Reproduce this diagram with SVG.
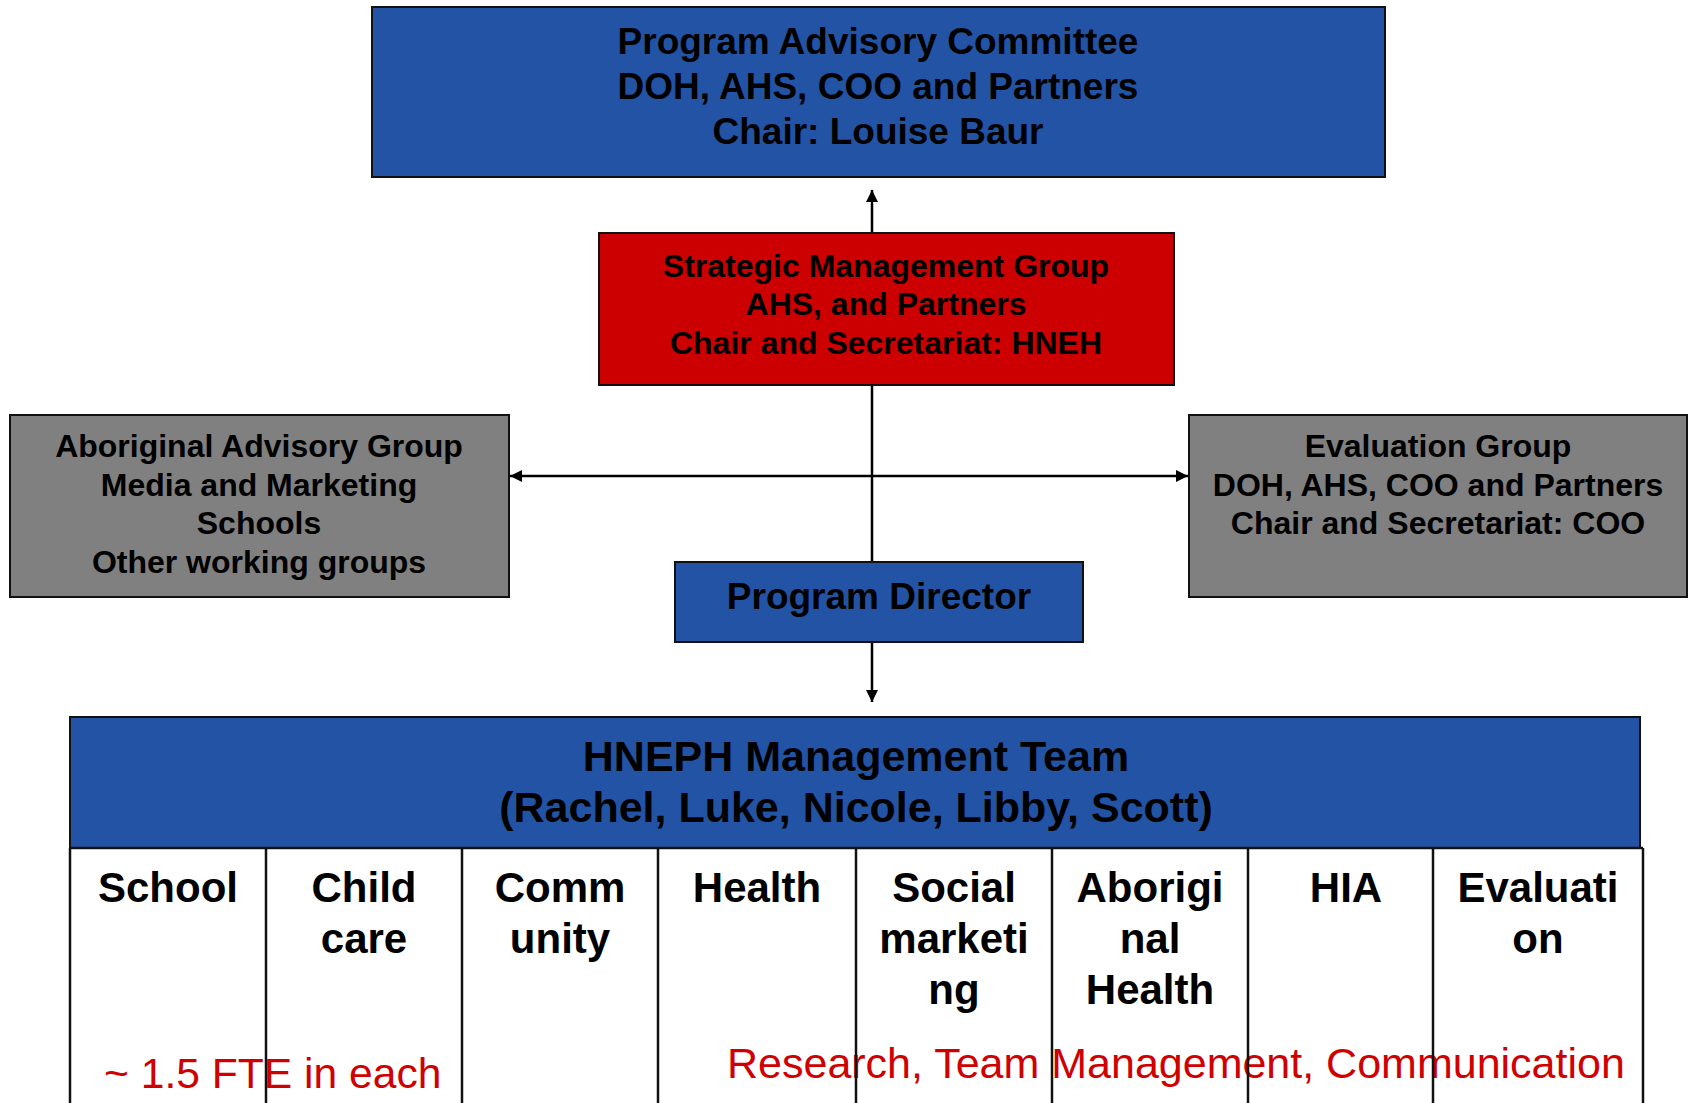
<svg xmlns="http://www.w3.org/2000/svg" width="1688" height="1103" viewBox="0 0 1688 1103">
<style>
.box{stroke:#111;stroke-width:2}
.blue{fill:#2353A5}
.red{fill:#CC0000}
.gray{fill:#808080}
.t{font-family:"Liberation Sans",Arial,sans-serif;font-weight:bold;fill:#000;text-anchor:middle}
.t37{font-size:37px}
.t32{font-size:32px}
.t42{font-size:42px}
.t43{font-size:43px}
.note{font-family:"Liberation Sans",Arial,sans-serif;fill:#D00000}
.conn{stroke:#000;stroke-width:2.5;fill:none}
.div{stroke:#111;stroke-width:2.5}
</style>
<defs>
<marker id="ah" viewBox="0 0 12 12" refX="12" refY="6" markerWidth="12" markerHeight="12" markerUnits="userSpaceOnUse" orient="auto">
<path d="M0,0 L12,6 L0,12 Z" fill="#000"/>
</marker>
</defs>
<rect width="1688" height="1103" fill="#fff"/>

<g id="connectors">
<line class="conn" x1="872" y1="233" x2="872" y2="190" marker-end="url(#ah)"/>
<line class="conn" x1="872" y1="385" x2="872" y2="562"/>
<line class="conn" x1="872" y1="476" x2="1188" y2="476" marker-end="url(#ah)"/>
<line class="conn" x1="872" y1="476" x2="510" y2="476" marker-end="url(#ah)"/>
<line class="conn" x1="872" y1="642" x2="872" y2="702" marker-end="url(#ah)"/>
</g>

<g id="program-advisory-committee">
<rect class="box blue" x="372" y="7" width="1013" height="170"/>
<text class="t t37" x="878" y="54">Program Advisory Committee</text>
<text class="t t37" x="878" y="99">DOH, AHS, COO and Partners</text>
<text class="t t37" x="878" y="144">Chair: Louise Baur</text>
</g>

<g id="strategic-management-group">
<rect class="box red" x="599" y="233" width="575" height="152"/>
<text class="t t32" x="886" y="277">Strategic Management Group</text>
<text class="t t32" x="886" y="315">AHS, and Partners</text>
<text class="t t32" x="886" y="354">Chair and Secretariat: HNEH</text>
</g>

<g id="aboriginal-advisory-group">
<rect class="box gray" x="10" y="415" width="499" height="182"/>
<text class="t t32" x="259" y="457">Aboriginal Advisory Group</text>
<text class="t t32" x="259" y="496">Media and Marketing</text>
<text class="t t32" x="259" y="534">Schools</text>
<text class="t t32" x="259" y="573">Other working groups</text>
</g>

<g id="evaluation-group">
<rect class="box gray" x="1189" y="415" width="498" height="182"/>
<text class="t t32" x="1438" y="457">Evaluation Group</text>
<text class="t t32" x="1438" y="496">DOH, AHS, COO and Partners</text>
<text class="t t32" x="1438" y="534">Chair and Secretariat: COO</text>
</g>

<g id="program-director">
<rect class="box blue" x="675" y="562" width="408" height="80"/>
<text class="t t37" x="879" y="609">Program Director</text>
</g>

<g id="hneph-management-team">
<rect class="box blue" x="70" y="717" width="1570" height="131"/>
<text class="t t43" x="856" y="771">HNEPH Management Team</text>
<text class="t t43" x="856" y="822">(Rachel, Luke, Nicole, Libby, Scott)</text>
</g>

<g id="team-columns">
<rect x="70" y="848" width="1573" height="260" fill="#fff"/>
<g id="col-school"><text class="t t42" x="168" y="902">School</text></g>
<g id="col-childcare"><text class="t t42" x="364" y="902">Child</text><text class="t t42" x="364" y="953">care</text></g>
<g id="col-community"><text class="t t42" x="560" y="902">Comm</text><text class="t t42" x="560" y="953">unity</text></g>
<g id="col-health"><text class="t t42" x="757" y="902">Health</text></g>
<g id="col-social"><text class="t t42" x="954" y="902">Social</text><text class="t t42" x="954" y="953">marketi</text><text class="t t42" x="954" y="1004">ng</text></g>
<g id="col-aboriginal"><text class="t t42" x="1150" y="902">Aborigi</text><text class="t t42" x="1150" y="953">nal</text><text class="t t42" x="1150" y="1004">Health</text></g>
<g id="col-hia"><text class="t t42" x="1346" y="902">HIA</text></g>
<g id="col-evaluation"><text class="t t42" x="1538" y="902">Evaluati</text><text class="t t42" x="1538" y="953">on</text></g>
<text class="note" x="104" y="1088" font-size="42.6">~ 1.5 FTE in each</text>
<text class="note" x="727" y="1078" font-size="43">Research, Team Management, Communication</text>
<g id="dividers">
<line class="div" x1="70" y1="848" x2="70" y2="1103"/>
<line class="div" x1="266" y1="848" x2="266" y2="1103"/>
<line class="div" x1="462" y1="848" x2="462" y2="1103"/>
<line class="div" x1="658" y1="848" x2="658" y2="1103"/>
<line class="div" x1="856" y1="848" x2="856" y2="1103"/>
<line class="div" x1="1052" y1="848" x2="1052" y2="1103"/>
<line class="div" x1="1248" y1="848" x2="1248" y2="1103"/>
<line class="div" x1="1433" y1="848" x2="1433" y2="1103"/>
<line class="div" x1="1643" y1="848" x2="1643" y2="1103"/>
<line class="div" x1="70" y1="848" x2="1643" y2="848"/>
</g>
</g>
</svg>
